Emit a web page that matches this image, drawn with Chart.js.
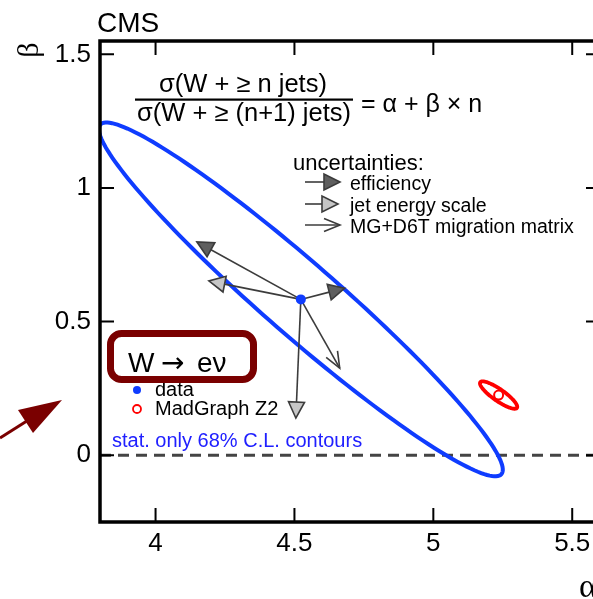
<!DOCTYPE html>
<html>
<head>
<meta charset="utf-8">
<script src="https://cdn.jsdelivr.net/npm/chart.js@4.4.0/dist/chart.umd.min.js"></script>
<style>
  html, body { margin: 0; padding: 0; background: #fff; overflow: hidden; }
  #wrap { width: 593px; height: 599px; overflow: hidden; }
</style>
</head>
<body>
<div id="wrap"><canvas id="ratioChart" width="620" height="599"></canvas></div>
<script>
// axis ticks
const alphaTicks = [4, 4.5, 5, 5.5];
const betaTicks = [0, 0.5, 1, 1.5];

// best fit values (alpha, beta)
const dataFit = [4.523, 0.583];
const madgraphFit = [5.235, 0.225];

// 68% C.L. contours: centre, half major axis, half minor axis (alpha, beta offsets)
const dataContour = [[4.523, 0.583], [0.722, -0.654], [0.086, 0.103]];
const madgraphContour = [[5.235, 0.225], [0.066, -0.048], [0.012, 0.018]];

// shifted fit results for each systematic (arrow end points)
const effShifts = [[4.149, 0.798], [4.681, 0.625]];
const jesShifts = [[4.192, 0.652], [4.505, 0.139]];
const migShifts = [[4.663, 0.326]];

// beta = 0 reference line
const zeroLine = [[3.8, 0], [5.6, 0]];

const FONT = '"Liberation Sans", Arial, sans-serif';
const SERIF = '"Liberation Serif", "DejaVu Serif", serif';
const BLUE = '#0f3cff';
const RED = '#ff0000';
const DARKRED = '#7a0000';

function drawArrow(ctx, x0, y0, x1, y1, head) {
  const ang = Math.atan2(y1 - y0, x1 - x0);
  const L = 16, W = 8;
  ctx.save();
  ctx.strokeStyle = '#3c3c3c';
  ctx.lineWidth = 1.6;
  ctx.beginPath();
  ctx.moveTo(x0, y0);
  if (head === 'open') ctx.lineTo(x1, y1);
  else ctx.lineTo(x1 - L * Math.cos(ang), y1 - L * Math.sin(ang));
  ctx.stroke();
  ctx.translate(x1, y1);
  ctx.rotate(ang);
  ctx.beginPath();
  if (head === 'open') {
    ctx.moveTo(-L, -6.5); ctx.lineTo(0, 0); ctx.lineTo(-L, 6.5);
    ctx.stroke();
  } else {
    ctx.moveTo(0, 0); ctx.lineTo(-L, -W); ctx.lineTo(-L, W); ctx.closePath();
    ctx.fillStyle = head === 'dark' ? '#5f5f5f' : '#c6c6c6';
    ctx.fill();
    ctx.stroke();
  }
  ctx.restore();
}

function drawContour(chart, c, color, width) {
  const { ctx, scales: { x, y } } = chart;
  const cx = x.getPixelForValue(c[0][0]), cy = y.getPixelForValue(c[0][1]);
  const ux = x.getPixelForValue(c[0][0] + c[1][0]) - cx, uy = y.getPixelForValue(c[0][1] + c[1][1]) - cy;
  const vx = x.getPixelForValue(c[0][0] + c[2][0]) - cx, vy = y.getPixelForValue(c[0][1] + c[2][1]) - cy;
  ctx.save();
  ctx.strokeStyle = color;
  ctx.lineWidth = width;
  ctx.beginPath();
  for (let i = 0; i <= 180; i++) {
    const t = i / 180 * 2 * Math.PI;
    const px = cx + Math.cos(t) * ux + Math.sin(t) * vx;
    const py = cy + Math.cos(t) * uy + Math.sin(t) * vy;
    if (i === 0) ctx.moveTo(px, py); else ctx.lineTo(px, py);
  }
  ctx.closePath();
  ctx.stroke();
  ctx.restore();
}

const overlay = {
  id: 'overlay',
  beforeDatasetDraw(chart, args) {
    if (args.index !== 1) return;
    const { ctx, chartArea: ca, scales: { x, y } } = chart;
    ctx.save();
    ctx.beginPath();
    ctx.rect(ca.left, ca.top, ca.right - ca.left, ca.bottom - ca.top);
    ctx.clip();
    drawContour(chart, dataContour, BLUE, 4);
    drawContour(chart, madgraphContour, RED, 3.8);
    const x0 = x.getPixelForValue(dataFit[0]), y0 = y.getPixelForValue(dataFit[1]);
    migShifts.forEach(p => drawArrow(ctx, x0, y0, x.getPixelForValue(p[0]), y.getPixelForValue(p[1]), 'open'));
    jesShifts.forEach(p => drawArrow(ctx, x0, y0, x.getPixelForValue(p[0]), y.getPixelForValue(p[1]), 'light'));
    effShifts.forEach(p => drawArrow(ctx, x0, y0, x.getPixelForValue(p[0]), y.getPixelForValue(p[1]), 'dark'));
    ctx.restore();
  },
  afterDraw(chart) {
    const { ctx, chartArea: ca, scales: { x, y } } = chart;
    const L = ca.left, T = ca.top;
    ctx.save();
    // frame and inward ticks
    ctx.strokeStyle = '#000';
    ctx.lineWidth = 2;
    ctx.beginPath();
    alphaTicks.forEach(v => {
      const px = x.getPixelForValue(v);
      ctx.moveTo(px, ca.bottom); ctx.lineTo(px, ca.bottom - 14);
      ctx.moveTo(px, ca.top); ctx.lineTo(px, ca.top + 14);
    });
    betaTicks.forEach(v => {
      const py = y.getPixelForValue(v);
      ctx.moveTo(ca.left, py); ctx.lineTo(ca.left + 14, py);
      ctx.moveTo(ca.right, py); ctx.lineTo(ca.right - 14, py);
    });
    ctx.stroke();
    ctx.lineWidth = 3.5;
    ctx.strokeRect(ca.left, ca.top, ca.right - ca.left, ca.bottom - ca.top);

    ctx.fillStyle = '#000';
    ctx.textBaseline = 'alphabetic';
    // CMS
    ctx.font = '28px ' + FONT;
    ctx.textAlign = 'left';
    ctx.fillText('CMS', L - 3, T - 9);

    // axis titles
    ctx.save();
    ctx.font = '30px ' + SERIF;
    ctx.translate(30, 50);
    ctx.rotate(-Math.PI / 2);
    ctx.textAlign = 'center';
    ctx.textBaseline = 'middle';
    ctx.fillText('β', 0, 0);
    ctx.restore();
    ctx.font = '34px ' + SERIF;
    ctx.textAlign = 'left';
    ctx.textBaseline = 'middle';
    ctx.fillText('α', 579, 588);
    ctx.textBaseline = 'alphabetic';

    // formula
    ctx.font = '25.5px ' + FONT;
    ctx.textAlign = 'center';
    ctx.fillText('σ(W + ≥ n jets)', L + 143, T + 51);
    ctx.fillText('σ(W + ≥ (n+1) jets)', L + 144, T + 80);
    ctx.fillRect(L + 35, T + 57.5, 218, 2.2);
    ctx.font = '25px ' + FONT;
    ctx.textAlign = 'left';
    ctx.fillText('= α + β × n', L + 261, T + 71);

    // uncertainty legend
    ctx.font = '22px ' + FONT;
    ctx.fillText('uncertainties:', L + 193, T + 129);
    ctx.font = '19.5px ' + FONT;
    ctx.fillText('efficiency', L + 250, T + 149);
    ctx.fillText('jet energy scale', L + 250, T + 171);
    ctx.fillText('MG+D6T migration matrix', L + 250, T + 192);
    drawArrow(ctx, L + 205, T + 141, L + 240, T + 141, 'dark');
    drawArrow(ctx, L + 205, T + 163, L + 238, T + 163, 'light');
    drawArrow(ctx, L + 205, T + 184, L + 240, T + 184, 'open');

    // data / MC legend
    ctx.font = '20px ' + FONT;
    ctx.fillStyle = '#000';
    ctx.fillText('data', L + 55, T + 355);
    ctx.fillText('MadGraph Z2', L + 55, T + 374);
    ctx.beginPath();
    ctx.arc(L + 37, T + 349, 4, 0, 2 * Math.PI);
    ctx.fillStyle = BLUE;
    ctx.fill();
    ctx.beginPath();
    ctx.arc(L + 37, T + 368, 4, 0, 2 * Math.PI);
    ctx.strokeStyle = RED;
    ctx.lineWidth = 1.8;
    ctx.stroke();
    ctx.fillStyle = '#2020ff';
    ctx.font = '20px ' + FONT;
    ctx.fillText('stat. only 68% C.L. contours', L + 12, T + 406);

    // channel box
    ctx.beginPath();
    ctx.roundRect(L + 10.5, T + 292.5, 143, 46, 11);
    ctx.fillStyle = '#fff';
    ctx.fill();
    ctx.strokeStyle = DARKRED;
    ctx.lineWidth = 7;
    ctx.stroke();
    ctx.fillStyle = '#000';
    ctx.font = '28px ' + FONT;
    ctx.fillText('W', L + 28, T + 331);
    ctx.font = '28px "DejaVu Sans", sans-serif';
    ctx.fillText('→', L + 61, T + 331);
    ctx.font = '28px ' + FONT;
    ctx.fillText('eν', L + 97, T + 331);

    // pointer arrow outside the frame
    ctx.strokeStyle = DARKRED;
    ctx.fillStyle = DARKRED;
    ctx.lineWidth = 3;
    ctx.beginPath();
    ctx.moveTo(0, 438); ctx.lineTo(30, 419);
    ctx.stroke();
    ctx.beginPath();
    ctx.moveTo(62, 400); ctx.lineTo(18, 410); ctx.lineTo(33, 433); ctx.closePath();
    ctx.fill();
    ctx.restore();
  }
};

const tickFont = { family: FONT, size: 26 };

new Chart(document.getElementById('ratioChart').getContext('2d'), {
  type: 'scatter',
  data: {
    datasets: [
      {
        data: zeroLine.map(p => ({ x: p[0], y: p[1] })),
        showLine: true,
        borderColor: '#444',
        borderWidth: 3,
        borderDash: [11, 7],
        pointRadius: 0,
        order: 3
      },
      {
        data: [{ x: dataFit[0], y: dataFit[1] }],
        pointRadius: 5,
        backgroundColor: BLUE,
        borderWidth: 0,
        order: 2
      },
      {
        data: [{ x: madgraphFit[0], y: madgraphFit[1] }],
        pointRadius: 4.5,
        backgroundColor: '#fff',
        borderColor: RED,
        borderWidth: 2,
        order: 1
      }
    ]
  },
  options: {
    responsive: false,
    animation: false,
    devicePixelRatio: 1,
    events: [],
    layout: { padding: { left: 0, top: 41, right: 20, bottom: 0 } },
    plugins: { legend: { display: false }, tooltip: { enabled: false } },
    scales: {
      x: {
        type: 'linear', min: 3.8, max: 5.6,
        afterBuildTicks: s => { s.ticks = alphaTicks.map(v => ({ value: v })); },
        afterFit: s => { s.height = 77; },
        grid: { display: false, drawTicks: false },
        border: { display: false },
        ticks: { font: tickFont, color: '#000', padding: 6, callback: v => String(v), maxRotation: 0 }
      },
      y: {
        type: 'linear', min: -0.25, max: 1.55,
        afterBuildTicks: s => { s.ticks = betaTicks.map(v => ({ value: v })); },
        afterFit: s => { s.width = 100; },
        grid: { display: false, drawTicks: false },
        border: { display: false },
        ticks: { font: tickFont, color: '#000', padding: 9, callback: v => String(v) }
      }
    }
  },
  plugins: [overlay]
});
</script>
</body>
</html>
